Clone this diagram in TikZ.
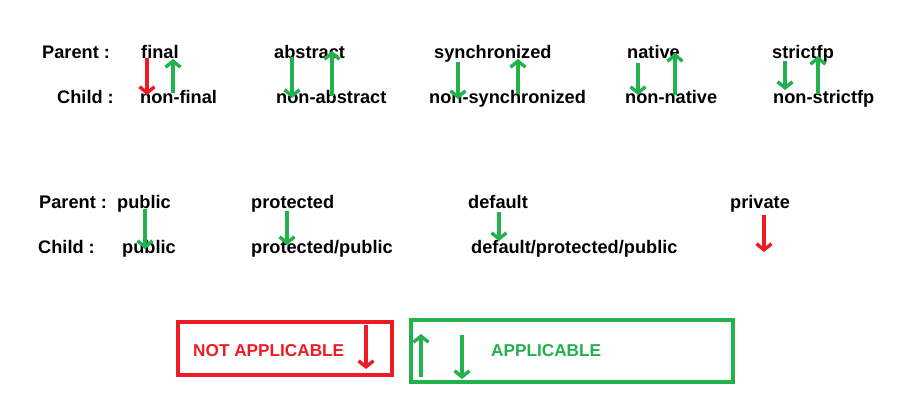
\documentclass[tikz,border=0pt]{standalone}
\usepackage{fontspec}
\setmainfont{Liberation Sans}
\usetikzlibrary{arrows.meta}

\definecolor{paintred}{HTML}{ED1C24}
\definecolor{paintgreen}{HTML}{22B14C}

\tikzset{
  lbl/.style={anchor=base west, inner sep=0pt, font=\fontsize{18.2}{21}\selectfont\bfseries},
  keylbl/.style={lbl, font=\fontsize{17.2}{20}\selectfont\bfseries},
  arr/.style={line width=3.8pt, -{Straight Barb[length=6pt,width=15pt,line width=3.4pt]}},
  ok/.style={arr, paintgreen},
  notok/.style={arr, paintred},
  legend/.style={line width=3.6pt}
}

\begin{document}
\begin{tikzpicture}[x=1pt,y=-1pt]
    \useasboundingbox (0,0) rectangle (902,415);

    % first row: modifiers
    \node[lbl] (par1) at (42,58) {Parent :};
    \node[lbl] (chi1) at (57,103) {Child :};

    \node[lbl] (final)     at (141,58) {final};
    \node[lbl] (nonfinal)  at (140,103) {non-final};
    \node[lbl] (abstract)  at (274,58) {abstract};
    \node[lbl] (nonabs)    at (276,103) {non-abstract};
    \node[lbl] (sync)      at (434,58) {synchronized};
    \node[lbl] (nonsync)   at (429,103) {non-synchronized};
    \node[lbl] (native)    at (627,58) {native};
    \node[lbl] (nonnative) at (625,103) {non-native};
    \node[lbl] (strictfp)  at (772,58) {strictfp};
    \node[lbl] (nonstrict) at (773,103) {non-strictfp};

    % arrows first row
    \draw[notok] (147,58) -- (147,95);
    \draw[ok] (173,93) -- (173,59);
    \draw[ok] (292,57) -- (292,98);
    \draw[ok] (332,96) -- (332,51);
    \draw[ok] (458,62) -- (458,99);
    \draw[ok] (518,94) -- (518,59);
    \draw[ok] (638,63) -- (638,95);
    \draw[ok] (675,95) -- (675,53);
    \draw[ok] (785,61) -- (785,90);
    \draw[ok] (818,94) -- (818,56);

    % second row: access levels
    \node[lbl] (par2) at (39,208) {Parent :};
    \node[lbl] (chi2) at (38,253) {Child :};

    \node[lbl] (public)    at (117,208) {public};
    \node[lbl] (cpublic)   at (122,253) {public};
    \node[lbl] (protected) at (251,208) {protected};
    \node[lbl] (cprot)     at (251,253) {protected/public};
    \node[lbl] (default)   at (468,208) {default};
    \node[lbl] (cdefault)  at (471,253) {default/protected/public};
    \node[lbl] (private)   at (730,208) {private};

    % arrows second row
    \draw[ok] (145,209) -- (145,249);
    \draw[ok] (287,211) -- (287,245);
    \draw[ok] (499,212) -- (499,241);
    \draw[notok] (764,215) -- (764,252);

    % legend
    \draw[legend, paintred] (178,322) rectangle (392,375);
    \node[keylbl, text=paintred] (notapp) at (193,356) {NOT APPLICABLE};
    \draw[notok] (366,325) -- (366,369);

    \draw[legend, paintgreen] (411,320) rectangle (733,382);
    \draw[ok] (421,377) -- (421,334);
    \draw[ok] (462,335) -- (462,379);
    \node[keylbl, text=paintgreen] (app) at (491,356) {APPLICABLE};

  \end{tikzpicture}
\end{document}
